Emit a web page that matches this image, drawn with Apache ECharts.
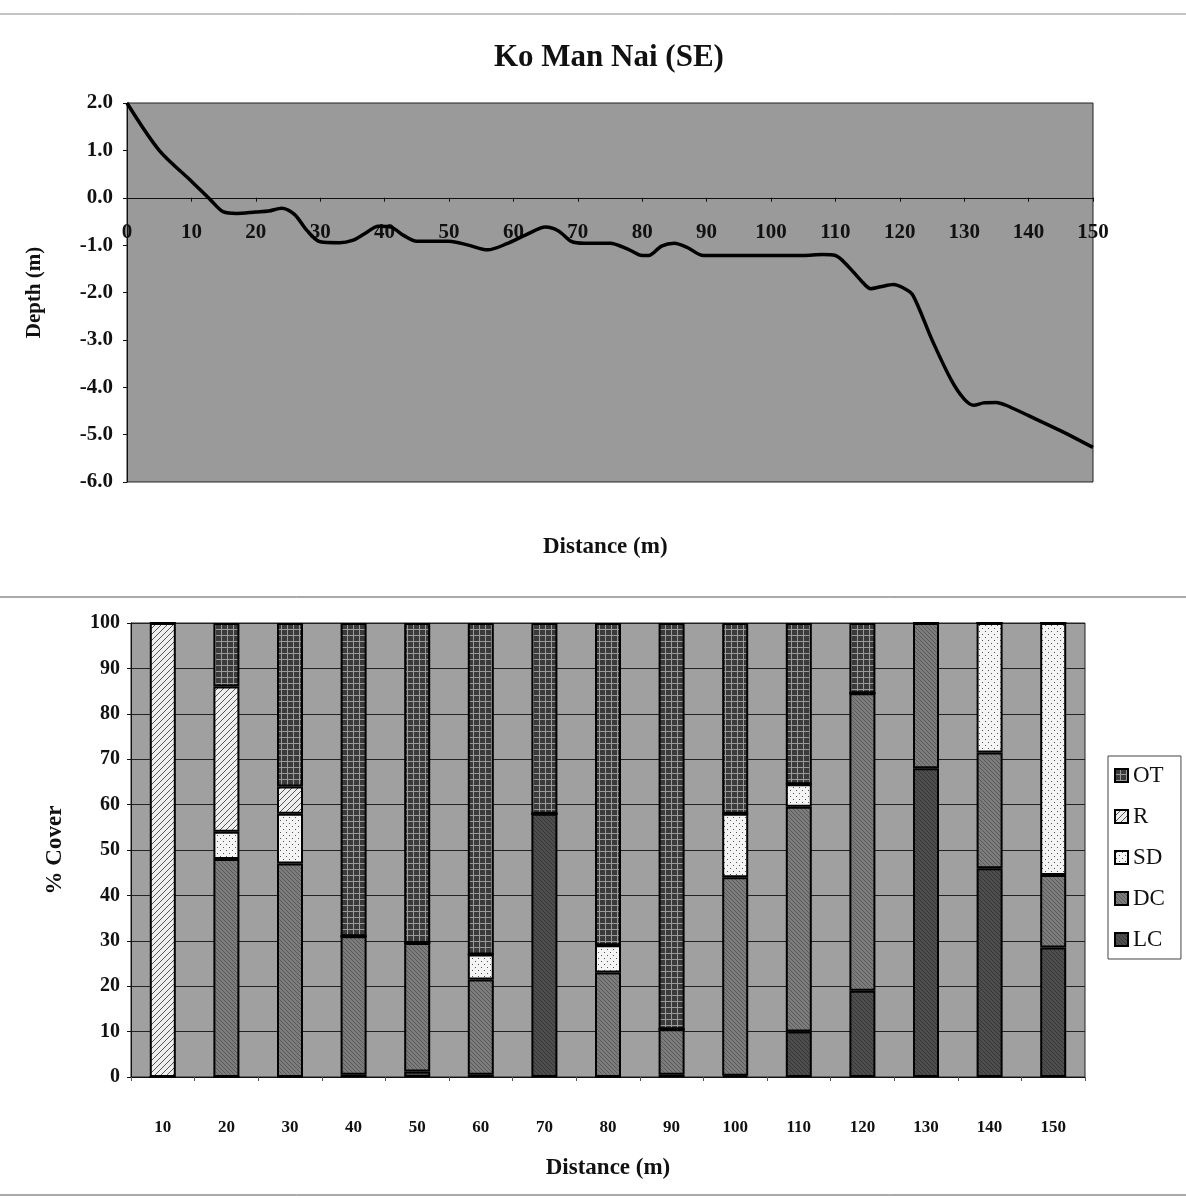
<!DOCTYPE html>
<html><head><meta charset="utf-8">
<script src="https://cdn.jsdelivr.net/npm/echarts@6/dist/echarts.min.js"></script>
<style>html,body{margin:0;padding:0;background:#fff}#c{width:1186px;height:1198px}</style>
</head><body><div id="c"></div>
<script>
// ---- Profile data (top chart) ----
const profileDistance = [0, 5, 10, 13, 15, 17, 20, 22, 24, 26, 28, 30, 33, 35, 37, 39, 41, 43, 45, 50, 53, 56, 59, 62, 65, 67, 69, 71, 75, 78, 80, 81, 83, 85, 87, 89.5, 95, 100, 105, 108, 110, 112, 114, 115.5, 117, 119, 120.5, 122, 125, 128, 130, 131.5, 133, 135, 136.5, 140, 145, 150];
const profileDepth = [2.0, 1.0, 0.35, -0.05, -0.3, -0.33, -0.3, -0.28, -0.22, -0.35, -0.7, -0.93, -0.95, -0.9, -0.75, -0.6, -0.62, -0.8, -0.92, -0.92, -1.0, -1.1, -0.97, -0.78, -0.62, -0.7, -0.92, -0.96, -0.96, -1.1, -1.22, -1.22, -1.02, -0.96, -1.05, -1.22, -1.22, -1.22, -1.22, -1.2, -1.22, -1.45, -1.75, -1.92, -1.88, -1.83, -1.9, -2.05, -3.0, -3.85, -4.25, -4.38, -4.33, -4.32, -4.38, -4.6, -4.92, -5.27];
const depthTicks = { min: -6, max: 2, interval: 1 };
const distTicks = { min: 0, max: 150, interval: 10 };

// ---- Cover data (bottom chart) ----
const coverCategories = ['10','20','30','40','50','60','70','80','90','100','110','120','130','140','150'];
const LC = [0, 0, 0, 0.5, 1.2, 0.5, 58, 0, 0.5, 0.3, 10, 19, 68, 46, 28.5];
const DC = [0, 48, 47, 30.5, 28.3, 21, 0, 23, 10, 43.7, 49.5, 65.5, 32, 25.5, 16];
const SD = [0, 6, 11, 0, 0, 5.5, 0, 6, 0, 14, 5, 0, 0, 28.5, 55.5];
const R  = [100, 32, 6, 0, 0, 0, 0, 0, 0, 0, 0, 0, 0, 0, 0];
const OT = [0, 14, 36, 69, 70.5, 73, 42, 71, 89.5, 42, 35.5, 15.5, 0, 0, 0];
const legendOrder = ['OT', 'R', 'SD', 'DC', 'LC'];

function pattern(size, draw) {
  const cv = document.createElement('canvas');
  cv.width = size; cv.height = size;
  const ctx = cv.getContext('2d');
  draw(ctx, size);
  return { image: cv, repeat: 'repeat' };
}
const patOT = pattern(6, (c, s) => { c.fillStyle = '#3a3a3a'; c.fillRect(0,0,s,s); c.fillStyle = '#9a9a9a'; c.fillRect(0,5,s,1); c.fillRect(5,0,1,s); });
const patR = pattern(6, (c, s) => { c.fillStyle = '#eeeeee'; c.fillRect(0,0,s,s); c.strokeStyle = '#555'; c.lineWidth = 1; c.beginPath(); c.moveTo(0,s); c.lineTo(s,0); c.stroke(); });
const patSD = pattern(6, (c, s) => { c.fillStyle = '#f4f4f4'; c.fillRect(0,0,s,s); c.fillStyle = '#555'; c.fillRect(1,1,1,1); c.fillRect(4,4,1,1); });
const patDC = pattern(4, (c, s) => { c.fillStyle = '#7c7c7c'; c.fillRect(0,0,s,s); c.strokeStyle = '#5a5a5a'; c.lineWidth = 1; c.beginPath(); c.moveTo(0,0); c.lineTo(s,s); c.stroke(); });
const patLC = pattern(4, (c, s) => { c.fillStyle = '#4e4e4e'; c.fillRect(0,0,s,s); c.strokeStyle = '#363636'; c.lineWidth = 1; c.beginPath(); c.moveTo(0,0); c.lineTo(s,s); c.stroke(); });

const FONT = 'Liberation Serif';
const chart = echarts.init(document.getElementById('c'));

const gridTop = { left: 127, top: 103, width: 966, height: 379 };
// place the distance axis on the zero line of the depth axis
const zeroOffset = -gridTop.height * (depthTicks.min / (depthTicks.min - depthTicks.max));

function barSeries(name, data, color) {
  return {
    name, type: 'bar', stack: 'cover', xAxisIndex: 1, yAxisIndex: 1,
    data, barWidth: 26,
    itemStyle: { color, borderColor: '#000', borderWidth: 2 },
    emphasis: { disabled: true }
  };
}

chart.setOption({
  animation: false,
  backgroundColor: '#fff',
  title: {
    text: 'Ko Man Nai (SE)', left: 489, top: 37,
    textStyle: { fontFamily: FONT, fontWeight: 'bold', fontSize: 31, color: '#111' }
  },
  grid: [
    Object.assign({ show: true, backgroundColor: '#9a9a9a', borderColor: '#222', borderWidth: 1 }, gridTop),
    { left: 131, top: 623, width: 954, height: 454, show: true, backgroundColor: '#a0a0a0', borderColor: '#222', borderWidth: 1 }
  ],
  legend: {
    data: legendOrder, orient: 'vertical', left: 1108, top: 756,
    icon: 'rect', itemWidth: 13, itemHeight: 13, itemGap: 18,
    backgroundColor: '#fff', borderColor: '#444', borderWidth: 1, padding: [8, 16, 8, 6],
    textStyle: { fontFamily: FONT, fontSize: 23, color: '#111', padding: [0, 0, 0, 0] }
  },
  xAxis: [
    {
      type: 'value', gridIndex: 0, min: distTicks.min, max: distTicks.max, interval: distTicks.interval,
      position: 'bottom', offset: zeroOffset,
      axisLine: { onZero: false, lineStyle: { color: '#111', width: 1 } },
      axisTick: { show: true, length: 4, lineStyle: { color: '#111' } },
      axisLabel: { margin: 24, fontFamily: FONT, fontWeight: 'bold', fontSize: 21, color: '#111' },
      splitLine: { show: false }
    },
    {
      type: 'category', gridIndex: 1, data: coverCategories,
      axisLine: { lineStyle: { color: '#111' } },
      axisTick: { show: true, length: 4, lineStyle: { color: '#555' } },
      axisLabel: { margin: 42, fontFamily: FONT, fontWeight: 'bold', fontSize: 17, color: '#111' },
      name: 'Distance (m)', nameLocation: 'middle', nameGap: 80,
      nameTextStyle: { fontFamily: FONT, fontWeight: 'bold', fontSize: 23, color: '#111' }
    }
  ],
  yAxis: [
    {
      type: 'value', gridIndex: 0, min: depthTicks.min, max: depthTicks.max, interval: depthTicks.interval,
      axisLine: { show: true, lineStyle: { color: '#111' } },
      axisTick: { show: true, length: 4, lineStyle: { color: '#111' } },
      axisLabel: { margin: 14, fontFamily: FONT, fontWeight: 'bold', fontSize: 21, color: '#111', formatter: v => v.toFixed(1) },
      splitLine: { show: false },
      name: 'Depth (m)', nameLocation: 'middle', nameGap: 82, nameRotate: 90,
      nameTextStyle: { fontFamily: FONT, fontWeight: 'bold', fontSize: 21, color: '#111' }
    },
    {
      type: 'value', gridIndex: 1, min: 0, max: 100, interval: 10,
      axisLine: { show: true, lineStyle: { color: '#111' } },
      axisTick: { show: true, length: 4, lineStyle: { color: '#111' } },
      axisLabel: { margin: 11, fontFamily: FONT, fontWeight: 'bold', fontSize: 20, color: '#111' },
      splitLine: { show: true, lineStyle: { color: '#222', width: 1 } },
      name: '% Cover', nameLocation: 'middle', nameGap: 64, nameRotate: 90,
      nameTextStyle: { fontFamily: FONT, fontWeight: 'bold', fontSize: 23, color: '#111' }
    }
  ],
  graphic: [
    { type: 'line', shape: { x1: 0, y1: 14, x2: 1186, y2: 14 }, style: { stroke: '#888', lineWidth: 1 } },
    { type: 'line', shape: { x1: 0, y1: 597, x2: 1186, y2: 597 }, style: { stroke: '#555', lineWidth: 1 } },
    { type: 'line', shape: { x1: 0, y1: 1195, x2: 1186, y2: 1195 }, style: { stroke: '#555', lineWidth: 1 } },
    { type: 'text', left: 543, top: 536, style: { text: 'Distance (m)', font: 'bold 23px "Liberation Serif"', fill: '#111' } }
  ],
  series: [
    {
      type: 'line', xAxisIndex: 0, yAxisIndex: 0, showSymbol: false, smooth: 0.3,
      data: profileDistance.map((d, i) => [d, profileDepth[i]]),
      lineStyle: { color: '#000', width: 3.5 }, emphasis: { disabled: true }
    },
    barSeries('LC', LC, patLC),
    barSeries('DC', DC, patDC),
    barSeries('SD', SD, patSD),
    barSeries('R', R, patR),
    barSeries('OT', OT, patOT)
  ]
});
</script></body></html>
